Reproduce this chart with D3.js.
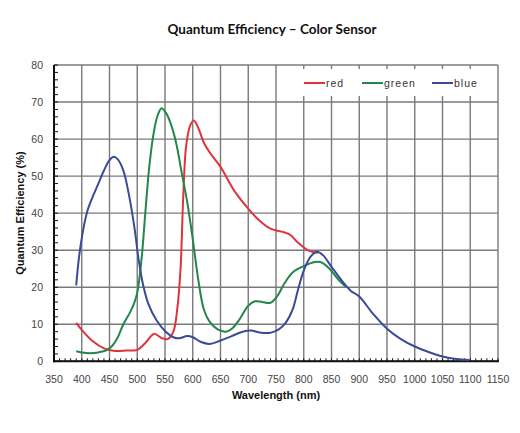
<!DOCTYPE html>
<html><head><meta charset="utf-8">
<script src="https://cdn.jsdelivr.net/npm/d3@7"></script>
<style>body{margin:0;background:#fff}</style>
</head><body>
<svg id="c" width="520" height="433"></svg>
<script>
const xTicks = [350,400,450,500,550,600,650,700,750,800,850,900,950,1000,1050,1100,1150];
const yTicks = [0,10,20,30,40,50,60,70,80];
const seriesNames = ["red","green","blue"];
const seriesColors = ["#e0343c","#23874a","#3a4b98"];
const redData = [[390,10.4],[400,8.5],[420,5.4],[440,3.5],[460,2.8],[480,2.9],[500,3.1],[515,5],[530,7.4],[545,6.2],[555,6],[565,8],[572,14],[578,25],[583,45],[588,58],[595,63.5],[602,65],[610,63],[620,59],[630,56.5],[650,52.5],[675,46],[700,41.2],[720,38],[740,35.8],[760,35],[775,34.2],[790,32],[810,29.8],[826,29.3]];
const greenData = [[390,2.7],[400,2.4],[415,2.2],[430,2.4],[445,3],[455,4.2],[465,6.5],[475,10],[487,13.2],[494,15.5],[500,18.5],[508,28],[515,41],[522,53],[530,62],[537,66.5],[544,68.3],[552,67],[560,64.3],[570,59],[580,51],[590,43],[600,33],[610,22],[620,14],[630,10.8],[645,8.6],[660,8],[672,9],[685,11.5],[700,15],[712,16.2],[725,16],[740,15.8],[752,17.5],[765,21],[780,24],[800,25.7],[820,26.8],[830,26.8],[845,25.2],[860,22.5],[875,20.2]];
const blueData = [[390,20.5],[395,28],[402,35],[410,40.5],[420,44.5],[430,48],[440,51.5],[450,54.3],[458,55.2],[465,54.5],[475,51.5],[485,45],[495,36],[502,28],[510,21],[520,15.5],[535,11],[550,8.2],[565,6.5],[575,6.2],[590,6.8],[600,6.5],[615,5.2],[630,4.7],[650,5.6],[670,6.8],[690,8],[705,8.3],[720,7.8],[740,7.7],[755,8.6],[768,10.5],[780,14],[790,19.5],[800,24.5],[812,28.2],[824,29.6],[835,28.6],[850,25.5],[870,21.5],[885,19],[900,17.5],[925,12.8],[950,8.8],[975,6],[1000,4],[1025,2.5],[1050,1.3],[1075,0.6],[1098,0.35]];
const allData = [redData, greenData, blueData];

const L=54, R=498, T=65, B=361.3;
const svg = d3.select("#c");
const x = d3.scaleLinear().domain([350,1150]).range([L,R]);
const y = d3.scaleLinear().domain([0,80]).range([B,T]);

svg.append("text").attr("x",272).attr("y",34).attr("text-anchor","middle")
  .attr("font-family","Lato, 'Open Sans', sans-serif").attr("font-weight","bold").attr("font-size",13.5)
  .attr("fill","#111").text("Quantum Efficiency – Color Sensor");

// grid
const g = svg.append("g");
g.selectAll("line.vx").data(xTicks).join("line")
  .attr("x1",d=>x(d)).attr("x2",d=>x(d)).attr("y1",T).attr("y2",B)
  .attr("stroke","#7a7a7a").attr("stroke-width",1.4);
g.selectAll("line.hy").data(yTicks).join("line")
  .attr("y1",d=>y(d)).attr("y2",d=>y(d)).attr("x1",L).attr("x2",R)
  .attr("stroke","#7a7a7a").attr("stroke-width",1.4);

// legend box
svg.append("rect").attr("x",292).attr("y",69).attr("width",204).attr("height",27).attr("fill","#fff");

// minor ticks
const yMinor = d3.range(0,80.1,2);
svg.selectAll("line.ym").data(yMinor).join("line")
  .attr("x1",L).attr("x2",L+4).attr("y1",d=>y(d)).attr("y2",d=>y(d))
  .attr("stroke","#111").attr("stroke-width",1);
const xMinor = d3.range(350,1150.1,10);
svg.selectAll("line.xm").data(xMinor).join("line")
  .attr("x1",d=>x(d)).attr("x2",d=>x(d)).attr("y1",B).attr("y2",B-3)
  .attr("stroke","#111").attr("stroke-width",1);

// axes lines
svg.append("line").attr("x1",L).attr("x2",L).attr("y1",T).attr("y2",B+1).attr("stroke","#111").attr("stroke-width",2);
svg.append("line").attr("x1",L-1).attr("x2",R+1).attr("y1",B).attr("y2",B).attr("stroke","#111").attr("stroke-width",2);

// tick labels
svg.selectAll("text.yl").data(yTicks).join("text")
  .attr("x",L-11).attr("y",d=>y(d)+4).attr("text-anchor","end")
  .attr("font-family","'Liberation Sans', Arial, sans-serif").attr("font-size",10.5).attr("fill","#444")
  .text(d=>d);
svg.selectAll("text.xl").data(xTicks).join("text")
  .attr("x",d=>x(d)).attr("y",383).attr("text-anchor","middle")
  .attr("font-family","'Liberation Sans', Arial, sans-serif").attr("font-size",10.5).attr("fill","#444")
  .text(d=>d);

svg.append("text").attr("x",276).attr("y",399).attr("text-anchor","middle")
  .attr("font-family","'Liberation Sans', Arial, sans-serif").attr("font-weight","bold").attr("font-size",11)
  .attr("fill","#111").text("Wavelength (nm)");
svg.append("text").attr("transform","translate(24,213) rotate(-90)").attr("text-anchor","middle")
  .attr("font-family","'Liberation Sans', Arial, sans-serif").attr("font-weight","bold").attr("font-size",11)
  .attr("fill","#111").text("Quantum Efficiency (%)");

// curves
const line = d3.line().x(d=>x(d[0])).y(d=>y(d[1])).curve(d3.curveCatmullRom.alpha(0.5));
allData.forEach((data,i)=>{
  svg.append("path").datum(data).attr("d",line).attr("fill","none")
    .attr("stroke",seriesColors[i]).attr("stroke-width",2).attr("stroke-linejoin","round");
});

// legend
const legX = [304,362,432];
seriesNames.forEach((n,i)=>{
  svg.append("line").attr("x1",legX[i]).attr("x2",legX[i]+21).attr("y1",83).attr("y2",83)
    .attr("stroke",seriesColors[i]).attr("stroke-width",2);
  svg.append("text").attr("x",legX[i]+22).attr("y",87).attr("font-family","'Liberation Sans', Arial, sans-serif")
    .attr("font-size",10.5).attr("letter-spacing",1).attr("fill","#333").text(n);
});
</script>
</body></html>
